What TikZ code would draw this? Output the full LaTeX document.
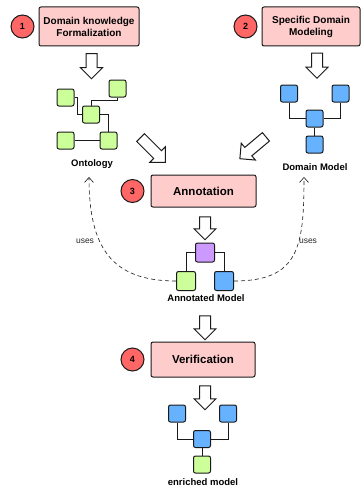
\documentclass[tikz,border=0pt]{standalone}
\usepackage{fontspec}
\setmainfont{Liberation Sans}
\usepackage{tikz}
\usetikzlibrary{shapes,shapes.arrows,positioning,calc,arrows.meta}

\definecolor{boxpink}{HTML}{FFCCCC}
\definecolor{numred}{HTML}{FF6666}
\definecolor{ontgreen}{HTML}{CCFF99}
\definecolor{dmblue}{HTML}{66B2FF}
\definecolor{annpurple}{HTML}{CC99FF}
\definecolor{edge}{HTML}{1A1A1A}

\begin{document}
\begin{tikzpicture}[x=1pt,y=-1pt,line width=1pt,
		stepbox/.style={draw=edge,
			fill=boxpink,
			rounded corners=2pt,
			align=center,
			inner sep=0pt,
			font=\fontsize{10}{12}\selectfont\bfseries
		},
		numcirc/.style={draw=edge,
			circle,
			fill=numred,
			minimum size=23pt,
			inner sep=0pt,
			font=\fontsize{9}{10}\selectfont\bfseries
		},
		sq/.style={draw=edge,
			rounded corners=2pt,
			minimum size=17pt,
			inner sep=0pt
		},
		bigarrow/.style={draw=edge,
			single arrow,
			fill=white,
			inner sep=5pt,
			single arrow head extend=5.5pt,
			minimum height=25pt,
			line width=1pt
		},
		modellabel/.style={font=\fontsize{9.5}{11}\selectfont\bfseries},
		uses/.style={font=\fontsize{8.5}{10}\selectfont, text=black!85}
	]
		\useasboundingbox (0,0) rectangle (361,487);

		% steps
		\node[stepbox,
			minimum width=100pt,
			minimum height=39pt
		] (box1) at (89,26.5) {Domain knowledge\\Formalization};
		\node[numcirc, left=4pt of box1] (num1) {1};

		\node[stepbox,
			minimum width=98pt,
			minimum height=39pt
		] (box2) at (311,26.5) {Specific Domain\\Modeling};
		\node[numcirc, left=4pt of box2] (num2) {2};

		\node[stepbox,
			minimum width=105pt,
			minimum height=32pt,
			font=\fontsize{11.5}{13}\selectfont\bfseries
		] (box3) at (203.5,191) {Annotation};
		\node[numcirc, left=6pt of box3] (num3) {3};

		\node[stepbox,
			minimum width=104pt,
			minimum height=35pt,
			font=\fontsize{11.5}{13}\selectfont\bfseries
		] (box4) at (203,359.5) {Verification};
		\node[numcirc, left=6pt of box4] (num4) {4};

		% ontology
		\node[sq, fill=ontgreen] (otr) at (117.5,88.5) {};
		\node[sq, fill=ontgreen] (olft) at (65.5,97.5) {};
		\node[sq, fill=ontgreen] (omid) at (91,114.5) {};
		\node[sq, fill=ontgreen] (obl) at (65.5,140.5) {};
		\node[sq, fill=ontgreen] (obr) at (108.5,140.5) {};
		\node[modellabel] (onto) at (92,164) {Ontology};

		\draw[edge] (olft.east) -- ++(3,0) |- (omid.west)
		(otr.south) -- ++(0,3) -| (omid.north)
		(omid.east) -| (obr.north)
		(obl) -- (obr);

		% domain model
		\node[sq, fill=dmblue] (dtl) at (289,93.5) {};
		\node[sq, fill=dmblue] (dtr) at (340.5,93.5) {};
		\node[sq, fill=dmblue] (dmid) at (314.5,118.5) {};
		\node[sq, fill=dmblue] (dbot) at (314.5,144.5) {};
		\node[modellabel] (dom) at (315,167) {Domain Model};

		\draw[edge] (dtl.south) |- (dmid.west)
		(dtr.south) |- (dmid.east)
		(dmid) -- (dbot);

		% annotated model
		\node[sq, fill=annpurple, minimum size=19pt] (apur) at (205,252.5) {};
		\node[sq, fill=ontgreen, minimum size=19pt] (agrn) at (186,281) {};
		\node[sq, fill=dmblue, minimum size=19pt] (ablu) at (224,281) {};
		\node[modellabel] (ann) at (206,298) {Annotated Model};

		\draw[edge] (apur.west) -| (agrn.north)
		(apur.east) -| (ablu.north);

		% enriched model
		\node[sq, fill=dmblue] (etl) at (177,413.5) {};
		\node[sq, fill=dmblue] (etr) at (228,413.5) {};
		\node[sq, fill=dmblue] (emid) at (202,439) {};
		\node[sq, fill=ontgreen] (ebot) at (202,464.5) {};
		\node[modellabel] (enr) at (203,482) {enriched model};

		\draw[edge] (etl.south) |- (emid.west)
		(etr.south) |- (emid.east)
		(emid) -- (ebot);

		% block arrows
		\node[bigarrow, rotate=-90] (a1) at (91.5,63.5) {};
		\node[bigarrow, rotate=-90] (a2) at (317,63) {};
		\node[bigarrow, rotate=-45, minimum height=35pt] (a3) at (151,148) {};
		\node[bigarrow, rotate=-140, minimum height=34pt] (a4) at (255,146) {};
		\node[bigarrow, rotate=-90, minimum height=23pt] (a5) at (205,225.5) {};
		\node[bigarrow, rotate=-90, minimum height=24pt] (a6) at (205,325) {};
		\node[bigarrow, rotate=-90, minimum height=24pt] (a7) at (205,395) {};

		% uses
		\coordinate (usesl) at (89,177);
		\coordinate (usesr) at (304,177);
		\draw[edge, line width=0.6pt, dash pattern=on 4pt off 3pt, -{Straight Barb[length=5pt,width=9pt]}]
		(agrn.west) .. controls +(-65,0) and +(0,70) .. (usesl);
		\draw[edge, line width=0.6pt, dash pattern=on 4pt off 3pt, -{Straight Barb[length=5pt,width=9pt]}]
		(ablu.east) .. controls +(65,0) and +(0,70) .. (usesr);
		\node[uses] (usesltxt) at (85,241) {uses};
		\node[uses] (usesrtxt) at (308,241) {uses};

	\end{tikzpicture}
\end{document}
